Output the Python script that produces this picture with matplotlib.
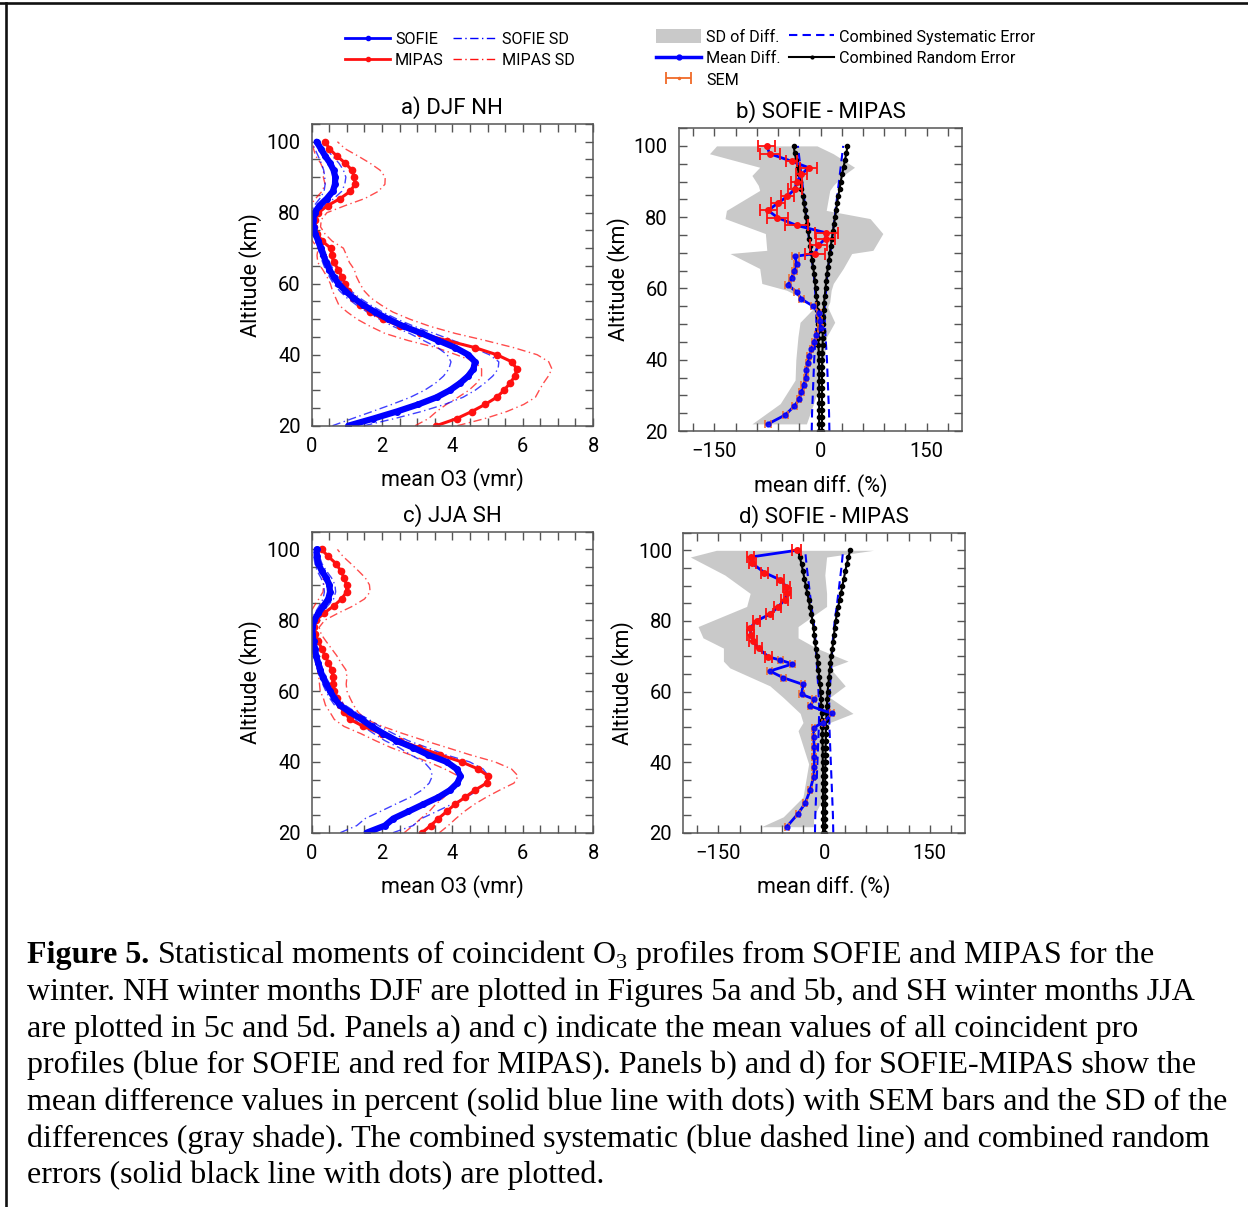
import numpy as np
import matplotlib
matplotlib.use("Agg")
import matplotlib.pyplot as plt
from matplotlib.lines import Line2D
from matplotlib.patches import Patch
from matplotlib.ticker import MultipleLocator
from matplotlib.container import ErrorbarContainer
from matplotlib.legend_handler import HandlerErrorbar

plt.rcParams['font.family'] = ['Roboto', 'DejaVu Sans']
plt.rcParams['mathtext.fontset'] = 'custom'
plt.rcParams['mathtext.rm'] = 'Liberation Serif'

# ---- data ----
alt = np.arange(20, 101, 2)   # altitude grid (km) of the mean profiles

# a) DJF NH, ozone vmr (ppmv)
sofie_a = [1.04, 1.75, 2.42, 3.03, 3.55, 3.93, 4.22, 4.45, 4.60, 4.64, 4.45, 4.08, 3.60, 3.13,
           2.61, 2.18, 1.80, 1.47, 1.18, 0.95, 0.76, 0.62, 0.50, 0.41, 0.33, 0.26, 0.19, 0.10,
           0.05, 0.04, 0.08, 0.22, 0.43, 0.60, 0.66, 0.67, 0.62, 0.52, 0.38, 0.26, 0.14]
mipas_a = [3.54, 4.12, 4.55, 4.93, 5.26, 5.47, 5.64, 5.78, 5.83, 5.69, 5.26, 4.64, 3.84, 3.08,
           2.51, 2.04, 1.66, 1.37, 1.18, 1.04, 0.95, 0.85, 0.76, 0.62, 0.57, 0.54, 0.30, 0.16,
           0.07, 0.09, 0.19, 0.45, 0.81, 1.09, 1.23, 1.21, 1.14, 0.95, 0.71, 0.50, 0.38]
sofie_sd_a = [0.45, 0.60, 0.70, 0.75, 0.75, 0.72, 0.70, 0.70, 0.70, 0.68, 0.60, 0.50, 0.42, 0.35,
              0.30, 0.25, 0.22, 0.20, 0.18, 0.16, 0.14, 0.12, 0.11, 0.10, 0.09, 0.08, 0.07, 0.07,
              0.06, 0.07, 0.10, 0.15, 0.20, 0.25, 0.28, 0.30, 0.28, 0.25, 0.20, 0.17, 0.15]
mipas_sd_a = [0.60, 0.80, 1.00, 1.10, 1.10, 1.00, 0.95, 0.95, 1.00, 1.05, 1.15, 1.10, 1.10, 1.00,
              0.85, 0.75, 0.65, 0.60, 0.50, 0.45, 0.42, 0.42, 0.45, 0.45, 0.42, 0.36, 0.28, 0.22,
              0.18, 0.18, 0.24, 0.50, 0.70, 0.80, 0.85, 0.88, 0.80, 0.70, 0.60, 0.45, 0.35]

# c) JJA SH
sofie_c = [1.56, 2.08, 2.32, 2.75, 3.17, 3.60, 3.93, 4.14, 4.23, 4.12, 3.84, 3.31, 2.89, 2.41,
           2.04, 1.70, 1.42, 1.09, 0.80, 0.64, 0.52, 0.41, 0.31, 0.24, 0.18, 0.12, 0.09, 0.05,
           0.02, 0.02, 0.07, 0.19, 0.33, 0.47, 0.52, 0.50, 0.41, 0.28, 0.19, 0.14, 0.14]
mipas_c = [3.13, 3.38, 3.60, 3.84, 4.07, 4.36, 4.64, 4.97, 5.02, 4.73, 4.26, 3.65, 3.06, 2.51,
           1.99, 1.47, 1.09, 0.92, 0.79, 0.71, 0.62, 0.60, 0.60, 0.57, 0.47, 0.38, 0.28, 0.19,
           0.09, 0.05, 0.12, 0.35, 0.62, 0.85, 0.99, 0.99, 0.92, 0.82, 0.69, 0.47, 0.28]
sofie_sd_c = [0.75, 0.80, 0.80, 0.80, 0.80, 0.80, 0.80, 0.80, 0.80, 0.75, 0.65, 0.50, 0.40, 0.33,
              0.28, 0.24, 0.20, 0.17, 0.15, 0.13, 0.12, 0.10, 0.09, 0.08, 0.07, 0.06, 0.06, 0.05,
              0.05, 0.05, 0.07, 0.10, 0.12, 0.15, 0.16, 0.16, 0.15, 0.13, 0.10, 0.08, 0.07]
mipas_sd_c = [0.50, 0.50, 0.50, 0.50, 0.55, 0.60, 0.70, 0.78, 0.85, 0.95, 0.95, 0.85, 0.80, 0.70,
              0.60, 0.55, 0.45, 0.40, 0.40, 0.38, 0.38, 0.38, 0.40, 0.40, 0.36, 0.33, 0.28, 0.22,
              0.18, 0.16, 0.25, 0.40, 0.55, 0.65, 0.67, 0.65, 0.60, 0.50, 0.42, 0.42, 0.45]

# b) SOFIE - MIPAS (DJF), mean difference (%) and SEM
alt_b_hi = [100.0, 97.8, 95.7, 93.9, 92.0, 89.8, 88.0, 85.8, 84.0, 81.9, 79.9, 77.7, 75.6, 74.0, 72.1, 69.8]
diff_b_hi = [-76, -72, -41, -17, -27, -34, -36, -47, -60, -74, -61, -34, 8, 7, -3, -8]
sem_b_hi = [12, 14, 8, 12, 8, 8, 10, 9, 10, 12, 15, 16, 16, 14, 12, 14]
alt_b_lo = [69, 67, 65, 63, 61, 59, 57, 55, 53, 51, 49, 47, 45, 43, 41, 39, 37, 35, 33, 31, 29, 27, 24.5, 22]
diff_b_lo = [-36, -34, -37, -41, -46, -34, -27, -10, -2, -1, 0, -6, -9, -13, -16, -18, -20, -21,
             -24, -27, -30, -37, -50, -74]
sem_b_lo = [5, 4, 4, 4, 4, 4, 3, 3, 3, 3, 3, 2.5, 2.5, 2.5, 2.5, 2.5, 2.5, 3, 3, 3, 3, 3, 3.5, 4]
# SD of differences, left / right edge of the gray shade
sd_alt_b = [100, 97.8, 94, 91.7, 88.9, 87.5, 81.9, 79.6, 75.4, 70.7, 69.8, 65.6, 61.4, 59.5,
            56.2, 54.8, 50.5, 46.4, 39.9, 34.3, 27.7, 22]
sd_lo_b = [-147, -157, -86, -97, -88, -86, -133, -135, -78, -76, -128, -86, -83, -48, -15, -8,
           -29, -32, -35, -36, -57, -97]
sd_hi_b = [-5, 18, 48, 32, 18, 13, 8, 70, 88, 74, 44, 32, 18, 15, 13, 10, 20, 8.5, 5, 1.4, -10, -20]

# d) SOFIE - MIPAS (JJA)
alt_d_hi = [100.0, 98.1, 96.3, 93.7, 91.6, 89.7, 87.8, 86.0, 83.8, 81.9, 80.0, 78.0, 76.1, 74.2, 72.2, 69.8]
diff_d_hi = [-39, -104, -102, -85, -62, -54, -52, -56, -66, -77, -96, -105, -104, -101, -93, -79]
sem_d_hi = [6, 5, 5, 5, 5, 5, 5, 5, 5, 5, 5, 5, 5, 5, 5, 5]
alt_d_lo = [68.9, 67.8, 65.8, 63.9, 62.0, 59.2, 57.8, 55.9, 53.8, 51.2, 49.8, 47.0, 44.2, 41.4,
            38.6, 35.8, 32.0, 28.3, 25.4, 21.7]
diff_d_lo = [-62, -45, -77, -58, -30, -32, -14, -20, 11, -1, -15, -15, -14, -14, -14, -15, -20, -27, -37, -53]
sem_d_lo = [4, 4, 3.5, 3.5, 3.5, 3, 3, 3, 3, 2.5, 2.5, 2.5, 2.5, 2.5, 2.5, 2.5, 2.5, 3, 3, 3]
sd_alt_d = [100, 98.1, 93, 87.8, 84.1, 78.4, 75.2, 72.3, 68.6, 66.7, 61.6, 58.3, 53.8, 51.2,
            48.9, 39.5, 30.1, 24.5, 21.7]
sd_lo_d = [-153, -190, -141, -105, -110, -179, -172, -143, -143, -134, -77, -58, -34, -30, -37,
           -22, -30, -58, -89]
sd_hi_d = [70, 3.5, 1, 3.5, 3.5, -37, -37, -11, 34, 8, 30, 8, 41, 8, 3.5, 1, -1, -15, -15]

# combined errors (%): systematic every 5 km, random every 2 km
sys_alt = np.arange(20, 101, 5)
sys_b = [12.5, 12, 11, 10, 9, 7.5, 6, 6, 8, 10, 14, 17, 20, 23, 26, 29, 32]
sys_d = [13, 12.5, 11.5, 10.5, 9.5, 8.5, 7.5, 7, 8, 9.5, 11, 12.5, 15, 18.5, 21.5, 24.5, 27]
rand_b = [2, 2, 2, 2, 2, 2, 2, 2, 2, 2, 2.5, 2.5, 3, 3, 3, 3.5, 4, 4.5, 5, 6, 7, 8, 9, 10.5, 12,
          13, 14.5, 16, 17.5, 19, 20.5, 22, 23.5, 25, 27, 28.5, 30.5, 32.5, 34.5, 36.5, 38]
rand_d = [1.5, 1.5, 1.5, 1.5, 1.5, 1.5, 1.5, 1.5, 1.5, 1.5, 2, 2, 2, 2.5, 2.5, 2.5, 3, 3.5, 4,
          4.5, 5, 6, 7, 8, 9, 10, 11.5, 13, 14, 15, 16.5, 18, 20, 22, 24, 26, 28, 30, 32, 34.5, 37]

caption = [
    " Statistical moments of coincident O$_3$ profiles from SOFIE and MIPAS for the",
    "winter. NH winter months DJF are plotted in Figures 5a and 5b, and SH winter months JJA",
    "are plotted in 5c and 5d. Panels a) and c) indicate the mean values of all coincident pro",
    "profiles (blue for SOFIE and red for MIPAS). Panels b) and d) for SOFIE-MIPAS show the",
    "mean difference values in percent (solid blue line with dots) with SEM bars and the SD of the",
    "differences (gray shade). The combined systematic (blue dashed line) and combined random",
    "errors (solid black line with dots) are plotted.",
]

# ---- styles ----
BLUE = '#0000ff'
RED = '#ff1010'
ORANGE = '#f06a28'
GRAY = '#c9c9c9'
DASHDOT = (0, (6, 2.5, 1, 2.5))
W, H = 1248, 1207

fig = plt.figure(figsize=(W / 100, H / 100), dpi=100)


def style_axes(ax, xmaj, xmin):
    for s in ax.spines.values():
        s.set_color('#555555')
        s.set_linewidth(1.1)
    ax.xaxis.set_major_locator(MultipleLocator(xmaj))
    ax.xaxis.set_minor_locator(MultipleLocator(xmin))
    ax.yaxis.set_major_locator(MultipleLocator(20))
    ax.yaxis.set_minor_locator(MultipleLocator(5))
    ax.tick_params(which='both', direction='in', top=True, right=True, length=6,
                   width=1, color='#555555', labelsize=14.5, pad=8)
    ax.set_ylim(20, 105)
    ax.set_ylabel('Altitude (km)', fontsize=15.5, labelpad=3)


def profile_panel(ax, sofie, mipas, sofie_sd, mipas_sd, title):
    s, m = np.array(sofie), np.array(mipas)
    ssd, msd = np.array(sofie_sd), np.array(mipas_sd)
    for sign in (-1, 1):
        ax.plot(m + sign * msd, alt, color=RED, lw=1.0, ls=DASHDOT, alpha=0.75)
        ax.plot(s + sign * ssd, alt, color=BLUE, lw=1.0, ls=DASHDOT, alpha=0.75)
    ax.plot(m, alt, color=RED, lw=2.2, marker='o', ms=4.5)
    ax.plot(s, alt, color=BLUE, lw=4.5, marker='o', ms=4, solid_capstyle='round')
    ax.set_xlim(0, 8)
    style_axes(ax, 2, 0.5)
    ax.set_xlabel('mean O3 (vmr)', fontsize=15.5, labelpad=9)
    ax.set_title(title, fontsize=16, pad=7)


def diff_panel(ax, a_hi, d_hi, e_hi, a_lo, d_lo, e_lo, sd_alt, sd_lo, sd_hi, sys_e, rand_e):
    ax.fill_betweenx(sd_alt, sd_lo, sd_hi, color=GRAY, lw=0)
    se, re = np.array(sys_e), np.array(rand_e)
    for sign in (-1, 1):
        ax.plot(sign * se, sys_alt, color=BLUE, lw=1.5, ls=(0, (4, 2.5)))
        ax.plot(sign * re, alt, color='black', lw=1.5, marker='o', ms=3)
    ax.plot(list(d_hi) + list(d_lo), list(a_hi) + list(a_lo), color=BLUE, lw=2)
    ax.errorbar(d_lo, a_lo, xerr=e_lo, fmt='o', color=BLUE, ms=3.5, ecolor=ORANGE,
                elinewidth=1.3, capsize=3, capthick=1.3, alpha=0.85)
    ax.errorbar(d_hi, a_hi, xerr=e_hi, fmt='o', color=RED, ms=4, ecolor=RED,
                elinewidth=1.3, capsize=4, capthick=1.3)
    ax.set_xlim(-200, 200)
    style_axes(ax, 150, 30)
    ax.set_xlabel('mean diff. (%)', fontsize=15.5, labelpad=9)


ax_a = fig.add_axes([0.2498, 0.6473, 0.2254, 0.2500])
ax_b = fig.add_axes([0.5441, 0.6429, 0.2268, 0.2510])
ax_c = fig.add_axes([0.2498, 0.3101, 0.2254, 0.2494])
ax_d = fig.add_axes([0.5475, 0.3101, 0.2257, 0.2486])

profile_panel(ax_a, sofie_a, mipas_a, sofie_sd_a, mipas_sd_a, 'a) DJF NH')
profile_panel(ax_c, sofie_c, mipas_c, sofie_sd_c, mipas_sd_c, 'c) JJA SH')
diff_panel(ax_b, alt_b_hi, diff_b_hi, sem_b_hi, alt_b_lo, diff_b_lo, sem_b_lo,
           sd_alt_b, sd_lo_b, sd_hi_b, sys_b, rand_b)
diff_panel(ax_d, alt_d_hi, diff_d_hi, sem_d_hi, alt_d_lo, diff_d_lo, sem_d_lo,
           sd_alt_d, sd_lo_d, sd_hi_d, sys_d, rand_d)
ax_b.set_title('b) SOFIE - MIPAS', fontsize=16, pad=7)
ax_d.set_title('d) SOFIE - MIPAS', fontsize=16, pad=7)

# ---- legends ----
leg_kw = dict(loc='upper left', frameon=False, fontsize=11.6, handlelength=2.8,
              handletextpad=0.3, columnspacing=0.55, labelspacing=0.36,
              borderpad=0, borderaxespad=0, ncol=2)
h1 = [Line2D([], [], color=BLUE, lw=2, marker='o', ms=3),
      Line2D([], [], color=RED, lw=2, marker='o', ms=3),
      Line2D([], [], color=BLUE, lw=1, ls=DASHDOT),
      Line2D([], [], color=RED, lw=1, ls=DASHDOT)]
fig.legend(h1, ['SOFIE', 'MIPAS', 'SOFIE SD', 'MIPAS SD'],
           bbox_to_anchor=(345 / W, 1 - 32 / H), **leg_kw)

sem_handle = ax_b.errorbar([np.nan], [np.nan], xerr=[1], fmt='.', color=ORANGE, ms=3,
                           elinewidth=1.3, capsize=4, capthick=1.3)
h2 = [Patch(color=GRAY, lw=0),
      Line2D([], [], color=BLUE, lw=2.5, marker='o', ms=3.5),
      sem_handle,
      Line2D([], [], color=BLUE, lw=1.5, ls=(0, (4, 2.5))),
      Line2D([], [], color='black', lw=1.5, marker='o', ms=2)]
fig.legend(h2, ['SD of Diff.', 'Mean Diff.', 'SEM', 'Combined Systematic Error',
                'Combined Random Error'],
           bbox_to_anchor=(656 / W, 1 - 29 / H), handleheight=1.0,
           handler_map={ErrorbarContainer: HandlerErrorbar(xerr_size=0.8)}, **leg_kw)

# ---- frame lines ----
fig.add_artist(Line2D([0, 1], [1 - 3 / H, 1 - 3 / H], transform=fig.transFigure,
                      color='#111111', lw=1.9))
fig.add_artist(Line2D([6.3 / W, 6.3 / W], [0, 1 - 3 / H], transform=fig.transFigure,
                      color='#111111', lw=1.9))

# ---- caption ----
cap_kw = dict(family='Liberation Serif', fontsize=23, va='baseline')
baselines = [963, 1000, 1037, 1073, 1110, 1147, 1183]
x0 = 27 / W
t0 = fig.text(x0, 1 - baselines[0] / H, 'Figure 5.', fontweight='bold', **cap_kw)
fig.canvas.draw()
bb = t0.get_window_extent()
fig.text(bb.x1 / W, 1 - baselines[0] / H, caption[0], **cap_kw)
for line, yb in zip(caption[1:], baselines[1:]):
    fig.text(x0, 1 - yb / H, line, **cap_kw)

fig.savefig('out.png', dpi=100)
